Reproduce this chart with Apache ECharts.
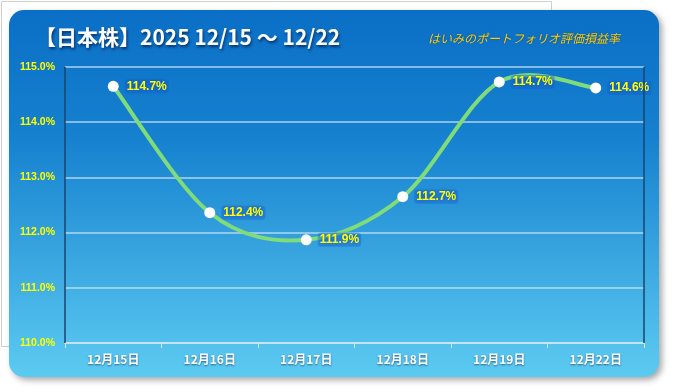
<!DOCTYPE html>
<html><head><meta charset="utf-8">
<script src="https://cdn.jsdelivr.net/npm/echarts@6/dist/echarts.min.js"></script>
<style>html,body{margin:0;padding:0;background:#fff}#c{width:674px;height:392px}</style>
</head><body><div id="c"></div>
<script>
const categories = ['12月15日','12月16日','12月17日','12月18日','12月19日','12月22日'];
const values = [114.65, 112.36, 111.87, 112.65, 114.73, 114.62];
const yTicks = [110, 111, 112, 113, 114, 115];
const titleText = '【日本株】2025 12/15 ～ 12/22';
const subTitle = 'はいみのポートフォリオ評価損益率';

const chart = echarts.init(document.getElementById('c'));

// smooth curve segment (Excel-like cardinal spline) drawn through the chart's own coordinate system
function renderSeg(params, api) {
  const i = params.dataIndex;
  if (i >= values.length - 1) return null;
  const P = k => api.coord([Math.max(0, Math.min(values.length - 1, k)), values[Math.max(0, Math.min(values.length - 1, k))]]);
  const p0 = P(i - 1), p1 = P(i), p2 = P(i + 1), p3 = P(i + 2);
  const t = 1 / 6;
  const c1 = [p1[0] + (p2[0] - p0[0]) * t, p1[1] + (p2[1] - p0[1]) * t];
  const c2 = [p2[0] - (p3[0] - p1[0]) * t, p2[1] - (p3[1] - p1[1]) * t];
  return {
    type: 'bezierCurve',
    shape: {x1: p1[0], y1: p1[1], x2: p2[0], y2: p2[1], cpx1: c1[0], cpy1: c1[1], cpx2: c2[0], cpy2: c2[1]},
    style: {stroke: '#7fdc78', lineWidth: 4, fill: null, lineCap: 'round'}
  };
}

chart.setOption({
  animation: false,
  backgroundColor: '#fff',
  graphic: [
    {type:'rect', shape:{x:1.5,y:1.5,width:550,height:345}, style:{fill:'#fff',stroke:'#d0d0d0',lineWidth:1}, z:-10},
    {type:'rect', shape:{x:9,y:10,width:650,height:367,r:15},
     style:{fill:new echarts.graphic.LinearGradient(0,0,0,1,[{offset:0,color:'#0a6fc6'},{offset:0.35,color:'#1681cf'},{offset:1,color:'#5ccbf1'}]),
            shadowBlur:6, shadowColor:'rgba(0,0,0,0.35)', shadowOffsetX:3, shadowOffsetY:3}, z:-5},
    {type:'text', left:35, top:27, style:{text:titleText, fill:'#fff', font:'bold 21px "Noto Sans CJK JP"', textShadowColor:'rgba(0,0,40,0.6)', textShadowBlur:3, textShadowOffsetX:1, textShadowOffsetY:2}, z:10},
    {type:'text', left:428, top:32, style:{text:subTitle, fill:'#ffcc00', font:'italic 12px "Noto Sans CJK JP"', textShadowColor:'rgba(0,0,60,0.4)', textShadowBlur:2}, z:10},
    {type:'line', shape:{x1:65,y1:67,x2:65,y2:343}, style:{stroke:'#16466f',lineWidth:1.5}, z:5},
    {type:'line', shape:{x1:644,y1:67,x2:644,y2:343}, style:{stroke:'#16466f',lineWidth:1.5}, z:5}
  ],
  grid: {left:65, right:30, top:67, bottom:49, containLabel:false},
  xAxis: {
    type:'category', data:categories, boundaryGap:true,
    axisLine:{lineStyle:{color:'#d8e4ee',width:1.5}},
    axisTick:{show:true, alignWithLabel:false, length:5, lineStyle:{color:'#d8e4ee'}},
    axisLabel:{color:'#fff', fontWeight:'bold', fontSize:12, margin:10, fontFamily:'"Noto Sans CJK JP"',
      textShadowColor:'rgba(0,0,50,0.5)', textShadowBlur:2, textShadowOffsetY:1}
  },
  yAxis: {
    type:'value', min:yTicks[0], max:yTicks[yTicks.length-1], interval:1,
    axisLine:{show:false}, axisTick:{show:false},
    splitLine:{lineStyle:{color:'rgba(200,225,245,0.85)',width:1.5}},
    axisLabel:{color:'#ffff00', fontWeight:'bold', fontSize:10.5, margin:10, fontFamily:'"Liberation Sans"',
      formatter:v=>v.toFixed(1)+'%'}
  },
  series: [
    {type:'custom', renderItem:renderSeg, data:values, z:2, silent:true},
    {
    type:'line', data:values, smooth:false,
    lineStyle:{opacity:0, width:0},
    symbol:'circle', symbolSize:11, itemStyle:{color:'#fff', borderWidth:0},
    label:{show:true, position:'right', distance:6, color:'#ffff00', fontWeight:'bold', fontSize:12,
      fontFamily:'"Liberation Sans"', formatter:p=>p.value.toFixed(1)+'%',
      textShadowColor:'#1050c0', textShadowBlur:4, backgroundColor:'rgba(20,90,210,0.35)', borderRadius:3, padding:[1,2]},
    z:3
  }]
});
</script></body></html>
